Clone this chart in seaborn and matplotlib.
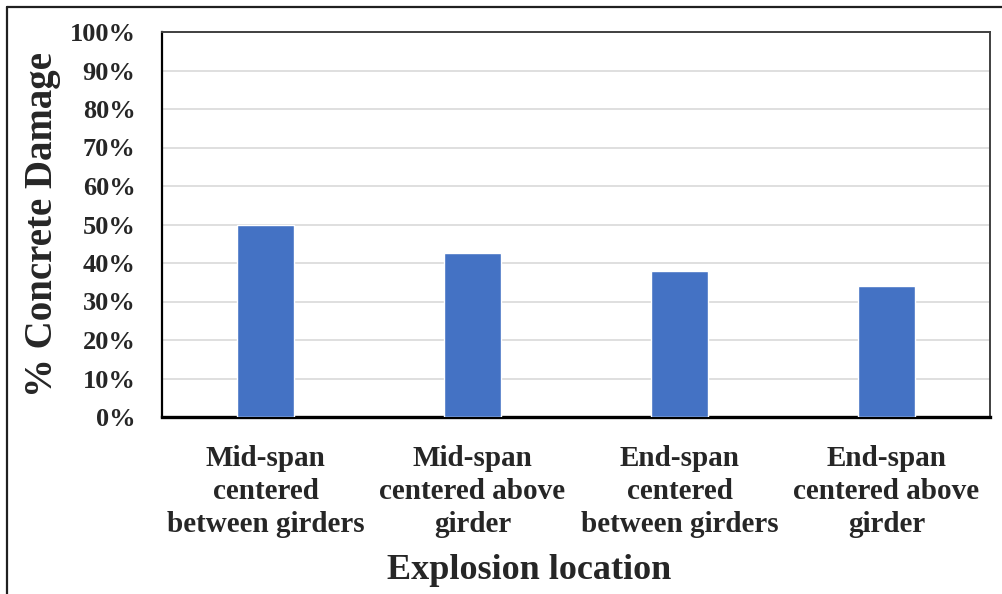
import matplotlib
matplotlib.use("Agg")
import matplotlib.pyplot as plt
from matplotlib.ticker import PercentFormatter
from matplotlib.lines import Line2D
import seaborn as sns

# Data
locations = [
    "Mid-span\ncentered\nbetween girders",
    "Mid-span\ncentered above\ngirder",
    "End-span\ncentered\nbetween girders",
    "End-span\ncentered above\ngirder",
]
damage = [0.50, 0.425, 0.38, 0.34]
y_ticks = [0.0, 0.1, 0.2, 0.3, 0.4, 0.5, 0.6, 0.7, 0.8, 0.9, 1.0]

SERIF = ["Liberation Serif", "DejaVu Serif"]

sns.set_theme(style="white")
plt.rcParams["font.family"] = SERIF
plt.rcParams["font.weight"] = "bold"

W, H = 1002, 594
fig = plt.figure(figsize=(W / 100, H / 100), dpi=100)
fig.patch.set_facecolor("white")
ax = fig.add_axes([162 / W, 1 - 417 / H, (990 - 162) / W, (417 - 32) / H])

sns.barplot(x=locations, y=damage, color="#4472C4", saturation=1,
            width=0.276, ax=ax, zorder=3)

ax.set_ylim(0, 1.0)
ax.set_yticks(y_ticks)
ax.yaxis.set_major_formatter(PercentFormatter(1.0, decimals=0))
ax.grid(axis="y", color="#D9D9D9", linewidth=1.2, zorder=0)
ax.grid(axis="x", visible=False)
ax.set_axisbelow(True)

ax.tick_params(axis="y", length=0, pad=19, labelsize=19)
ax.tick_params(axis="x", length=0, pad=20, labelsize=21)
for lbl in ax.get_yticklabels():
    lbl.set_family(SERIF)
    lbl.set_fontweight("bold")
ax.set_xticks(range(len(locations)))
ax.set_xticklabels(locations, family=SERIF, fontweight="bold", fontsize=21,
                   multialignment="center", linespacing=1.3)

for side in ["top", "right"]:
    ax.spines[side].set_color("#404040")
    ax.spines[side].set_linewidth(1.4)
ax.spines["left"].set_color("black")
ax.spines["left"].set_linewidth(1.6)
ax.spines["bottom"].set_color("black")
ax.spines["bottom"].set_linewidth(2.4)

ax.set_ylabel("% Concrete Damage", fontsize=28, fontweight="bold", family=SERIF)
ax.yaxis.set_label_coords((61 - 162) / 828, 0.5)
ax.set_xlabel("Explosion location", fontsize=26, fontweight="bold", family=SERIF)
ax.xaxis.set_label_coords((529 - 162) / 828, (417 - 554) / 385)

# Outer frame around the figure (top and left edges)
fig.add_artist(Line2D([7 / W, 1.0], [1 - 7 / H, 1 - 7 / H], color="#202020",
                      linewidth=1.6, transform=fig.transFigure))
fig.add_artist(Line2D([7 / W, 7 / W], [0.0, 1 - 7 / H], color="#202020",
                      linewidth=1.6, transform=fig.transFigure))

fig.savefig("out.png", dpi=100)
